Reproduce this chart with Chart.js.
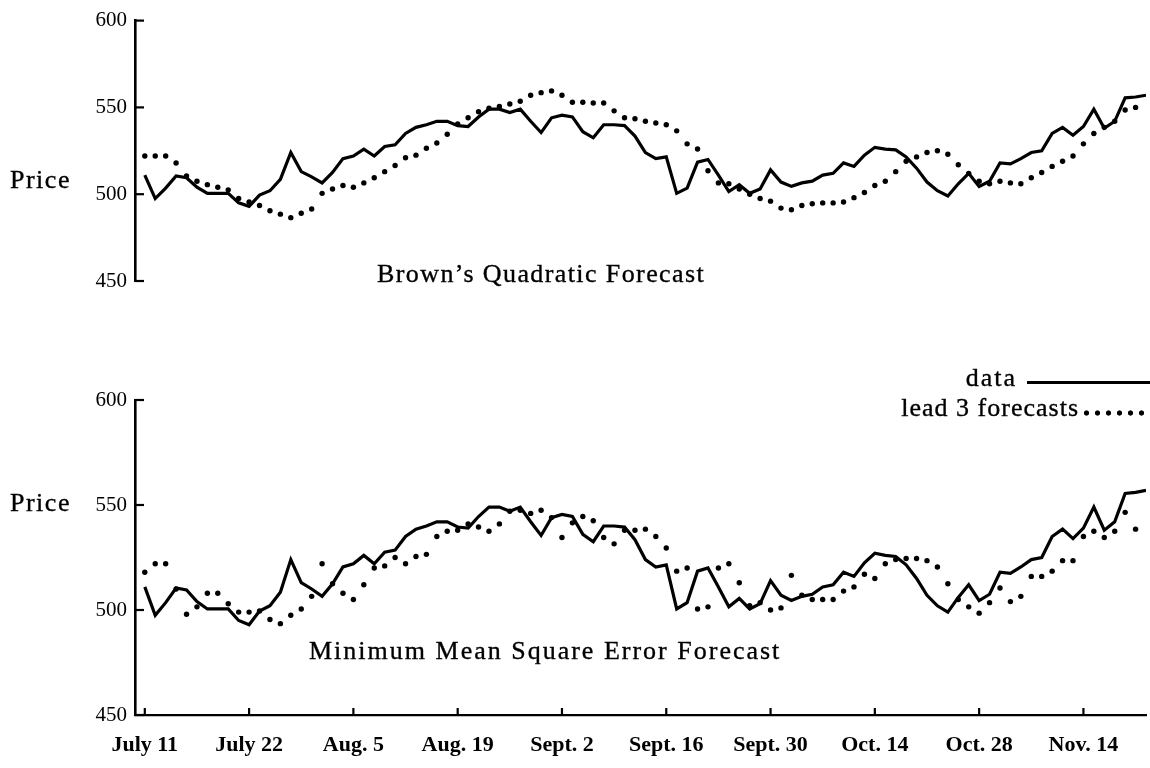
<!DOCTYPE html>
<html>
<head>
<meta charset="utf-8">
<script src="https://cdn.jsdelivr.net/npm/chart.js@4.4.1/dist/chart.umd.min.js"></script>
<style>
  html, body { margin:0; padding:0; background:#fff; }
  #wrap { position:relative; width:1150px; height:768px; overflow:hidden; background:#fff; }
  canvas { position:absolute; left:0; }
  .t { position:absolute; font-family:'Liberation Serif', 'Times New Roman', serif; font-size:26px; line-height:26px; color:#000; white-space:nowrap; -webkit-text-stroke:0.35px #000; }
</style>
</head>
<body>
<div id="wrap">
  <canvas id="topChart" width="1150" height="345" style="top:0px"></canvas>
  <canvas id="botChart" width="1150" height="408" style="top:360px"></canvas>
  <div class="t" style="left:10px; top:167px; letter-spacing:1.5px">Price</div>
  <div class="t" style="left:10px; top:490px; letter-spacing:1.5px">Price</div>
  <div class="t" style="left:377px; top:261px; letter-spacing:1.4px">Brown’s Quadratic Forecast</div>
  <div class="t" style="left:309px; top:638px; letter-spacing:2px">Minimum Mean Square Error Forecast</div>
  <div class="t" style="right:133px; top:365px; letter-spacing:2px">data</div>
  <div class="t" style="right:71px; top:395px; letter-spacing:1px">lead 3 forecasts</div>
  <div style="position:absolute; left:1027px; top:381px; width:123px; height:3px; background:#000"></div>
  <div style="position:absolute; left:1081px; top:410px; width:66px; height:6px; background-image:radial-gradient(circle, #000 2.3px, transparent 2.9px); background-size:11px 6px;"></div>
</div>
<script>
// ---- data ----
const tickIdx = [0, 10, 20, 30, 40, 50, 60, 70, 80, 90];
const tickLabels = ['July 11', 'July 22', 'Aug. 5', 'Aug. 19', 'Sept. 2', 'Sept. 16', 'Sept. 30', 'Oct. 14', 'Oct. 28', 'Nov. 14'];
const yTicks = [450, 500, 550, 600];

const price = [
  511, 497.5, 503.5, 510.5, 509.5, 504, 500.5, 500.5, 500.5, 495,
  493, 499.5, 502, 508.5, 524, 513, 510, 506.5, 512.5, 520.5,
  522, 526, 522, 527.5, 528.5, 535, 538.5, 540, 542, 542,
  539.5, 539, 544.5, 549, 549, 547, 549, 542, 535.5, 544,
  545.5, 544.5, 536, 532.5, 540, 540, 539.5, 533.5, 524, 520.5,
  521.5, 500.5, 503.5, 518.5, 520, 511, 501.5, 505.5, 500.5, 503,
  514, 507, 504.5, 506.5, 507.5, 511, 512, 518, 516, 522.5,
  527, 526, 525.5, 521.5, 515, 507, 502, 499, 506, 512,
  504.5, 507.5, 518, 517.5, 520.5, 524, 525, 535, 538.5, 534,
  539, 549, 538, 542, 555.5, 556, 557
];

const brownForecast = [
  522, 522, 522, 518, 510.5, 507.5, 505.5, 504, 502.5,
  497.5, 495.5, 493.5, 490.5, 488.5, 486.5, 489, 491.5,
  500.5, 503, 505, 504, 506.5, 509.5, 513, 516.5, 521, 522.5, 526.5, 529.5, 534.5, 540.5, 544, 547.5, 549.5, 550.5, 552, 553.5, 557,
  558.5,
  559.5, 557, 553, 553, 552.5, 552.5, 548, 544, 543.5, 542, 541, 540, 536.5, 529, 526, 513.5, 506.5, 506,
  503, 500,
  497.5, 496, 492, 491, 493.5, 494.5, 495, 495, 495.5, 498, 501, 505, 507.5, 513, 519, 521.5, 524, 525, 523, 517,
  512,
  507.5, 506, 507.5, 506.5, 506, 509.5, 512.5, 516, 519, 522, 529, 535, 538.5, 542, 548.5, 550
];

const mmseForecast = [
  518, 522, 522, 510, 498, 501.5, 508, 508, 503, 499, 499, 499.5, 495.5, 493.5, 497.5, 500.5, 506.5, 522, 512.5, 508, 505, 512, 520, 521,
  525, 522, 525.5, 526.5, 535, 537.5, 538, 541, 539.5, 537.5, 541, 547, 547.5, 546, 547.5, 544, 534.5, 541.5, 544.5, 542.5, 534.5, 531.5, 538, 538,
  538.5, 535, 529.5, 518.5, 520, 500.5, 501.5, 520, 522, 513, 502, 503.5, 500, 501, 516.5, 507, 505, 505, 505, 509, 511, 517, 515, 522,
  524, 524.5, 524.5, 523.5, 520.5, 512.5, 505, 501.5, 498.5, 503.5, 510.5, 504, 506.5, 516, 516, 518.5, 523.5, 523.5, 535, 537.5, 534.5, 537.5, 546.5, 538.5
];

// ---- helpers ----
const toXY = arr => arr.map((v, i) => ({ x: i, y: v }));

const inwardTicks = {
  id: 'inwardTicks',
  afterDraw(chart, args, opts) {
    const ctx = chart.ctx;
    ctx.save();
    ctx.strokeStyle = '#000';
    ctx.lineCap = 'butt';
    const ys = chart.scales.y;
    ctx.lineWidth = 2.2;
    ys.ticks.forEach(t => {
      const py = ys.getPixelForValue(t.value);
      ctx.beginPath();
      ctx.moveTo(ys.right, py);
      ctx.lineTo(ys.right + opts.yLen, py);
      ctx.stroke();
    });
    if (opts.xLen) {
      const xs = chart.scales.x;
      xs.ticks.forEach(t => {
        const px = xs.getPixelForValue(t.value);
        ctx.beginPath();
        ctx.moveTo(px, xs.top);
        ctx.lineTo(px, xs.top - opts.xLen);
        ctx.stroke();
      });
    }
    ctx.restore();
  }
};

function makeChart(id, forecast, showX) {
  return new Chart(document.getElementById(id), {
    type: 'line',
    data: {
      datasets: [
        {
          label: 'data',
          data: toXY(price),
          borderColor: '#000',
          borderWidth: 3.2,
          borderJoinStyle: 'miter',
          pointRadius: 0,
          tension: 0,
          fill: false,
          order: 1
        },
        {
          label: 'lead 3 forecasts',
          data: toXY(forecast),
          showLine: false,
          pointRadius: 2.7,
          pointBackgroundColor: '#000',
          pointBorderWidth: 0,
          pointBorderColor: '#000',
          order: 2
        }
      ]
    },
    options: {
      responsive: false,
      animation: false,
      devicePixelRatio: 1,
      events: [],
      layout: { padding: { top: showX ? 40 : 18, bottom: showX ? 0 : 11, left: 0, right: 0 } },
      plugins: {
        legend: { display: false },
        tooltip: { enabled: false },
        inwardTicks: { yLen: 9, xLen: showX ? 7 : 0 }
      },
      scales: {
        x: {
          type: 'linear',
          min: -0.94,
          max: 96,
          display: showX,
          afterBuildTicks: s => { s.ticks = tickIdx.map(v => ({ value: v })); },
          afterFit: s => { s.height = 53; },
          grid: { display: false, drawTicks: false },
          border: { display: true, color: '#000', width: 2.2 },
          ticks: {
            autoSkip: false,
            maxRotation: 0,
            padding: 17,
            color: '#000',
            font: { family: 'Liberation Serif', size: 22, weight: 'bold' },
            callback: v => { const k = tickIdx.indexOf(v); return k < 0 ? '' : tickLabels[k]; }
          }
        },
        y: {
          min: 450,
          max: 600,
          afterBuildTicks: s => { s.ticks = yTicks.map(v => ({ value: v })); },
          afterFit: s => { s.width = 135; },
          grid: { display: false, drawTicks: false },
          border: { display: true, color: '#000', width: 2.6 },
          ticks: {
            padding: 8,
            color: '#000',
            font: { family: 'Liberation Serif', size: 21 }
          }
        }
      }
    },
    plugins: [inwardTicks]
  });
}

makeChart('topChart', brownForecast, false);
makeChart('botChart', mmseForecast, true);
</script>
</body>
</html>
